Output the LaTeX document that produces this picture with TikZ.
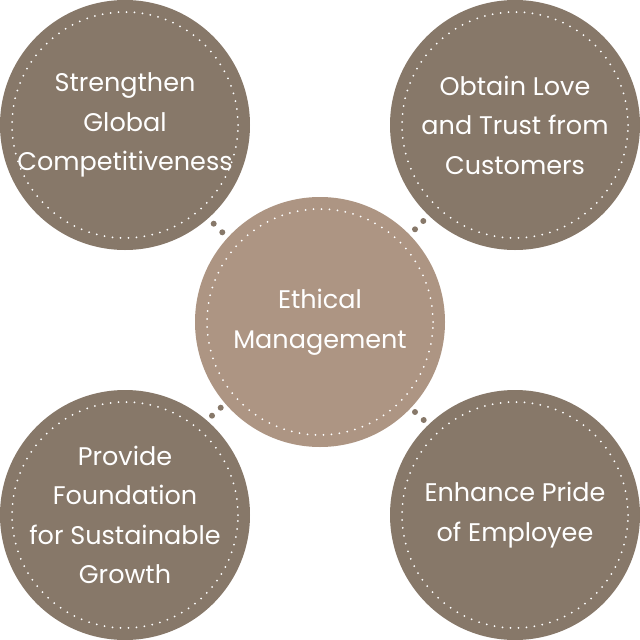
\documentclass[tikz,border=0pt]{standalone}
\usepackage{fontspec}
\setmainfont{Poppins}
\usetikzlibrary{calc}
\definecolor{outerbrown}{HTML}{877869}
\definecolor{midbrown}{HTML}{AD9583}

\begin{document}
\begin{tikzpicture}[x=1pt, y=-1pt,
  bubble/.style={circle, fill=outerbrown, minimum size=250pt, inner sep=0pt,
    text=white, align=center, font=\fontsize{25.5}{39.5}\selectfont},
  ring/.style={white, line width=2pt, line cap=round, dash pattern=on 0pt off 8pt}]
\useasboundingbox (0,0) rectangle (640,640);
% outer circles
\node[bubble] (tl) at (125,125) {Strengthen\\Global\\Competitiveness};
\node[bubble] (tr) at (515,125) {Obtain Love\\and Trust from\\Customers};
\node[bubble] (bl) at (125,515) {Provide\\Foundation\\for Sustainable\\Growth};
\node[bubble] (br) at (515,515) {Enhance Pride\\of Employee};
% centre
\node[bubble, fill=midbrown] (mid) at (320,322) {Ethical\\Management};
\foreach \n in {tl,tr,bl,br,mid}
  \draw[ring] (\n.center) circle (113pt);
% small dots between the circles
\foreach \x/\y in {213.7/223.7, 222.3/232.3, 423.3/221, 415/229.3,
                   220.7/407.7, 212/415.7, 415/412, 423.7/420}
  \fill[outerbrown] (\x,\y) circle (3pt);
\end{tikzpicture}
\end{document}
